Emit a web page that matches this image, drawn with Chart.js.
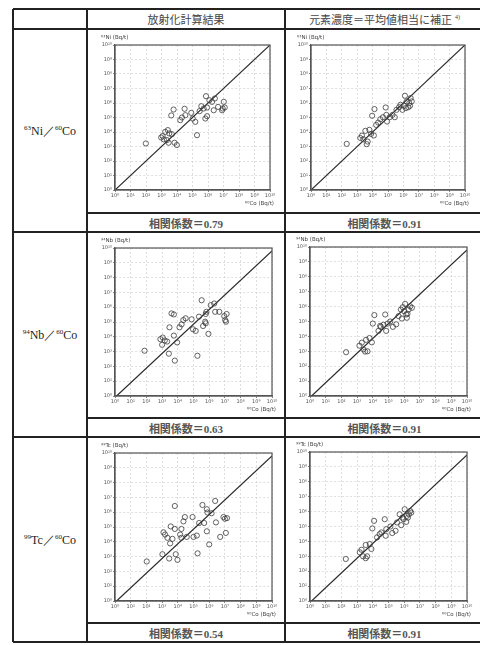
<!DOCTYPE html>
<html>
<head>
<meta charset="utf-8">
<script src="https://cdn.jsdelivr.net/npm/chart.js@4.4.1/dist/chart.umd.min.js"></script>
<style>
  html, body { margin: 0; padding: 0; background: #fff; }
  body { width: 480px; height: 645px; position: relative; overflow: hidden; }
  .ln { position: absolute; background: #222; }
  .txt { position: absolute; transform: translate(-50%, -50%); white-space: nowrap; color: #3a3a3a; }
  .hdr { font-family: 'Liberation Serif', 'Noto Sans CJK JP', serif; font-size: 11px; color: #444; }
  .corr { font-family: 'Liberation Serif', 'Noto Sans CJK JP', serif; font-size: 11px; font-weight: 600; color: #555; }
  .pair { font-family: 'Liberation Serif', serif; font-size: 12px; color: #222; }
  canvas { position: absolute; }
</style>
</head>
<body>
<script>
// values are log10 (Bq/t)
const TICK_EXP = [0, 1, 2, 3, 4, 5, 6, 7, 8, 9, 10];

const niCalcX = [1.99, 2.98, 3.07, 3.24, 3.41, 3.15, 3.35, 3.5, 3.67, 3.84, 3.99, 3.46, 3.63, 3.78, 4.21, 4.32, 4.49, 4.54, 4.92, 5.18, 5.29, 5.01, 5.57, 5.72, 5.87, 5.83, 5.94, 5.94, 6.09, 6.26, 6.44, 6.37, 6.65, 6.91, 7.02, 7.08, 6.95, 5.46];
const niCalcY = [3.21, 3.62, 3.72, 4.01, 4.13, 3.49, 3.44, 3.9, 3.85, 3.26, 3.1, 3.26, 5.14, 5.55, 4.82, 5.0, 5.6, 5.16, 5.32, 4.7, 3.78, 4.93, 5.78, 5.62, 6.47, 4.93, 5.09, 5.69, 6.19, 6.08, 6.31, 5.5, 5.73, 5.5, 6.08, 5.69, 5.62, 5.44];

const niAdjX = [2.32, 3.2, 3.31, 3.4, 3.53, 3.62, 3.68, 3.79, 3.9, 3.97, 4.12, 4.23, 4.36, 4.5, 4.67, 4.85, 4.89, 4.94, 5.11, 5.29, 5.44, 5.55, 5.72, 5.81, 5.94, 6.03, 6.1, 6.21, 6.32, 6.38, 6.47, 6.54, 6.16, 6.43, 4.08];
const niAdjY = [3.18, 3.59, 3.75, 3.5, 4.08, 3.16, 3.34, 4.15, 3.87, 5.12, 5.58, 4.49, 4.65, 4.88, 5.02, 5.69, 5.18, 4.72, 5.02, 5.18, 5.02, 5.53, 5.71, 5.88, 5.53, 5.81, 6.5, 6.11, 5.71, 5.99, 6.34, 6.11, 5.65, 5.81, 3.76];

const nbCalcX = [1.88, 2.89, 3.04, 3.17, 3.0, 3.32, 3.43, 3.75, 3.96, 3.81, 3.47, 3.6, 3.75, 4.11, 4.24, 4.35, 4.5, 4.88, 4.97, 5.14, 5.25, 5.35, 5.52, 5.61, 5.74, 5.78, 5.82, 5.95, 6.1, 6.32, 6.38, 6.64, 6.96, 7.02, 7.07, 7.11, 5.78];
const nbCalcY = [3.06, 3.84, 3.95, 3.75, 3.46, 3.68, 2.86, 4.08, 3.62, 2.39, 4.64, 5.58, 5.51, 4.64, 4.84, 5.13, 5.25, 5.18, 4.51, 4.4, 2.72, 5.36, 6.47, 4.73, 5.02, 5.54, 5.69, 4.2, 6.14, 6.25, 5.69, 5.69, 5.4, 5.13, 5.02, 5.54, 4.91];

const nbAdjX = [2.3, 3.15, 3.3, 3.4, 3.51, 3.66, 3.57, 3.79, 3.94, 4.0, 4.1, 4.36, 4.51, 4.68, 4.79, 4.85, 4.94, 5.11, 5.28, 5.49, 5.64, 5.79, 5.85, 6.0, 6.06, 6.13, 6.21, 6.28, 6.38, 6.49, 6.17, 5.91, 4.47];
const nbAdjY = [2.94, 3.38, 3.58, 3.13, 2.98, 3.0, 3.77, 3.89, 3.6, 4.86, 5.43, 4.37, 4.64, 4.78, 5.47, 4.37, 4.86, 5.0, 4.64, 4.81, 5.36, 5.8, 5.2, 5.69, 6.18, 5.47, 5.52, 5.8, 6.02, 5.92, 5.25, 5.96, 4.71];

const tcCalcX = [2.02, 3.02, 3.09, 3.19, 3.34, 3.51, 3.66, 3.45, 3.55, 3.81, 3.81, 3.87, 3.98, 4.15, 4.23, 4.36, 4.45, 4.57, 4.94, 5.0, 5.21, 5.26, 5.36, 5.57, 5.68, 5.85, 5.85, 5.89, 6.0, 6.15, 6.38, 6.43, 6.7, 6.91, 7.06, 7.13, 7.0, 4.23];
const tcCalcY = [2.67, 3.16, 4.64, 4.49, 4.27, 3.89, 4.2, 2.87, 5.04, 6.42, 4.87, 3.16, 2.78, 4.49, 4.87, 5.38, 5.67, 4.33, 5.67, 4.33, 4.42, 3.22, 5.27, 6.49, 5.27, 4.71, 6.2, 5.98, 3.82, 5.93, 6.76, 5.31, 4.33, 5.67, 4.6, 5.6, 5.56, 4.27];

const tcAdjX = [2.28, 3.17, 3.28, 3.38, 3.55, 3.64, 3.55, 3.81, 3.91, 3.97, 4.08, 4.27, 4.44, 4.55, 4.76, 4.82, 4.86, 5.12, 5.24, 5.45, 5.54, 5.71, 5.81, 5.96, 6.03, 6.13, 6.24, 6.3, 6.38, 6.45, 6.17, 5.88];
const tcAdjY = [2.82, 3.27, 3.44, 3.0, 2.87, 3.0, 3.76, 3.82, 3.49, 4.87, 5.38, 4.27, 4.49, 4.6, 5.49, 4.38, 4.82, 5.0, 4.56, 4.71, 5.27, 5.82, 5.09, 5.49, 6.16, 5.31, 5.6, 5.82, 6.04, 5.93, 5.71, 5.6];

// reference lines (start / end, log10)
const lineFull  = [[0, 0], [10, 10]];
const lineShift = [[0.1, 0], [10, 9.8]];

const headers   = ['放射化計算結果', '元素濃度＝平均値相当に補正 <sup style="font-size:6px">4)</sup>'];
const pairs     = ['<sup style="font-size:7px">63</sup>Ni／<sup style="font-size:7px">60</sup>Co',
                   '<sup style="font-size:7px">94</sup>Nb／<sup style="font-size:7px">60</sup>Co',
                   '<sup style="font-size:7px">99</sup>Tc／<sup style="font-size:7px">60</sup>Co'];
const yTitles   = ['⁶³Ni (Bq/t)', '⁹⁴Nb (Bq/t)', '⁹⁹Tc (Bq/t)'];
const xTitle    = '⁶⁰Co (Bq/t)';
const corrCalc  = ['0.79', '0.63', '0.54'];
const corrAdj   = ['0.91', '0.91', '0.91'];

// ---- table frame ----
const COL = [13, 87, 285, 484];
const ROW_TOP = [29, 232, 437];     // chart rows
const ROW_CORR = [213, 418, 623];   // correlation rows
const BOTTOM = 642;

function line(x, y, w, h) {
  const d = document.createElement('div');
  d.className = 'ln';
  Object.assign(d.style, { left: x + 'px', top: y + 'px', width: w + 'px', height: h + 'px' });
  document.body.appendChild(d);
}
function text(cls, html, x, y) {
  const d = document.createElement('div');
  d.className = 'txt ' + cls;
  d.innerHTML = html;
  d.style.left = x + 'px';
  d.style.top = y + 'px';
  document.body.appendChild(d);
}

[9, 29, 232, 437, BOTTOM].forEach((y) => line(COL[0], y - 0.75, COL[3] - COL[0], 1.5));
ROW_CORR.forEach((y) => line(COL[1], y - 0.75, COL[3] - COL[1], 1.5));
COL.slice(0, 3).forEach((x) => line(x - 0.75, 9, 1.5, BOTTOM - 9));

text('hdr', headers[0], (COL[1] + COL[2]) / 2, 19);
text('hdr', headers[1], (COL[2] + COL[3]) / 2, 19);
pairs.forEach((p, i) => text('pair', p, (COL[0] + COL[1]) / 2, (ROW_TOP[i] + (i < 2 ? ROW_TOP[i + 1] : BOTTOM)) / 2));
corrCalc.forEach((c, i) => text('corr', '相関係数＝' + c, (COL[1] + COL[2]) / 2, ROW_CORR[i] + 9.5));
corrAdj.forEach((c, i) => text('corr', '相関係数＝' + c, (COL[2] + COL[3]) / 2, ROW_CORR[i] + 9.5));

// ---- charts ----
const SUP = { '0': '⁰', '1': '¹', '2': '²', '3': '³', '4': '⁴', '5': '⁵', '6': '⁶', '7': '⁷', '8': '⁸', '9': '⁹', '-': '⁻' };
const pow10 = (e) => '10' + String(e).split('').map((c) => SUP[c]).join('');

const TICK_FONT = { family: 'DejaVu Sans', size: 5 };

const frame = {
  id: 'frame',
  afterDraw(chart, args, opts) {
    const { ctx, chartArea: a } = chart;
    ctx.save();
    ctx.strokeStyle = '#555';
    ctx.lineWidth = 1.2;
    ctx.strokeRect(a.left, a.top, a.right - a.left, a.bottom - a.top);
    ctx.fillStyle = '#444';
    ctx.font = '5.5px "DejaVu Sans"';
    ctx.textAlign = 'left';
    ctx.fillText(opts.y, a.left - 14, a.top - 6);
    ctx.textAlign = 'right';
    ctx.fillText(opts.x, a.right + 4, a.bottom + 15);
    ctx.restore();
  },
};

function makeChart(cellX, cellY, off, xs, ys, ref, yTitle) {
  const w = 198, h = ROW_CORR[0] - ROW_TOP[0];
  const c = document.createElement('canvas');
  c.width = w; c.height = h;
  c.style.left = cellX + 'px';
  c.style.top = cellY + 'px';
  document.body.appendChild(c);

  const axis = (fit) => ({
    type: 'linear',
    min: 0, max: 10,
    afterBuildTicks: (s) => { s.ticks = TICK_EXP.map((v) => ({ value: v })); },
    afterFit: fit,
    ticks: { font: TICK_FONT, color: '#555', padding: 1, callback: (v) => pow10(v), maxRotation: 0, autoSkip: false },
    grid: { color: '#c8c8c8', lineWidth: 0.6, tickColor: '#666', tickLength: 2, tickWidth: 0.8, tickBorderDash: [] },
    border: { display: true, color: '#555', width: 1.2, dash: [2, 2] },
  });

  return new Chart(c.getContext('2d'), {
    type: 'scatter',
    data: {
      datasets: [
        {
          data: xs.map((x, i) => ({ x, y: ys[i] })),
          pointRadius: 2.6,
          pointBorderWidth: 0.8,
          pointBorderColor: '#3c3c3c',
          pointBackgroundColor: 'rgba(0,0,0,0)',
        },
        {
          data: ref.map(([x, y]) => ({ x, y })),
          showLine: true,
          borderColor: '#2a2a2a',
          borderWidth: 1.2,
          pointRadius: 0,
        },
      ],
    },
    options: {
      responsive: false,
      animation: false,
      events: [],
      layout: { padding: { left: 0, top: off.top, right: off.right, bottom: 0 } },
      plugins: {
        legend: { display: false },
        tooltip: { enabled: false },
        frame: { x: xTitle, y: yTitle },
      },
      scales: {
        x: axis((s) => { s.height = off.bottom; }),
        y: axis((s) => { s.width = off.left; }),
      },
    },
    plugins: [frame],
  });
}

const OFF_L = { left: 28, right: 15, top: 16, bottom: 23 };
const OFF_R = { left: 26, right: 18, top: 16, bottom: 23 };
const OFF_L2 = { left: 28, right: 13, top: 16, bottom: 20 };
const OFF_R2 = { left: 25, right: 16, top: 15, bottom: 20 };

makeChart(COL[1], ROW_TOP[0], OFF_L, niCalcX, niCalcY, lineFull, yTitles[0]);
makeChart(COL[2], ROW_TOP[0], OFF_R, niAdjX, niAdjY, lineFull, yTitles[0]);
makeChart(COL[1], ROW_TOP[1], OFF_L2, nbCalcX, nbCalcY, lineShift, yTitles[1]);
makeChart(COL[2], ROW_TOP[1], OFF_R2, nbAdjX, nbAdjY, lineShift, yTitles[1]);
makeChart(COL[1], ROW_TOP[2], OFF_L2, tcCalcX, tcCalcY, lineShift, yTitles[2]);
makeChart(COL[2], ROW_TOP[2], OFF_R2, tcAdjX, tcAdjY, lineShift, yTitles[2]);
</script>
</body>
</html>
